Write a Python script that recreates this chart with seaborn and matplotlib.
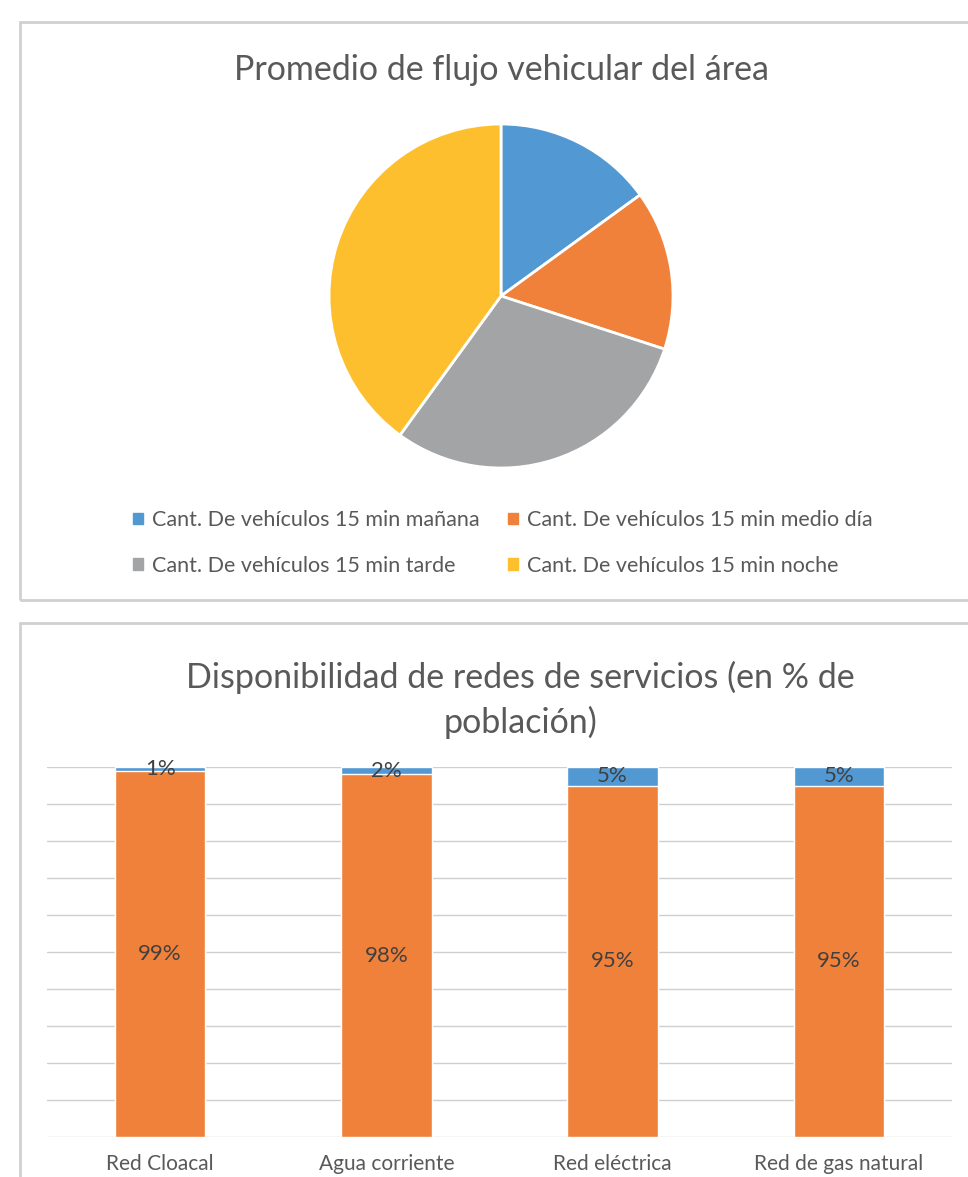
import matplotlib.pyplot as plt
import seaborn as sns
import pandas as pd
from matplotlib.patches import Rectangle, Patch

# pie data
flujo_labels = ["Cant. De vehículos 15 min mañana", "Cant. De vehículos 15 min medio día",
                "Cant. De vehículos 15 min tarde", "Cant. De vehículos 15 min noche"]
flujo_vals = [15, 15, 30, 40]
pie_colors = ["#5299D3", "#F0813A", "#A3A4A6", "#FDBF2D"]

# stacked bar data
redes = ["Red Cloacal", "Agua corriente", "Red eléctrica", "Red de gas natural"]
con_red = [99, 98, 95, 95]
sin_red = [1, 2, 5, 5]

sns.set_theme(style="white")
plt.rcParams['font.family'] = ['Lato', 'DejaVu Sans']
txt = "#595959"

W, H = 968, 1177
fig = plt.figure(figsize=(W / 100, H / 100), dpi=100)

def fx(px):
    return px / W

def fy(py):
    return 1 - py / H

# chart boxes
fig.patches.append(Rectangle((fx(20), fy(600)), fx(960), 578 / H, transform=fig.transFigure,
                             fill=False, edgecolor="#D0D0D0", linewidth=2))
fig.patches.append(Rectangle((fx(20), fy(1190)), fx(960), 567 / H, transform=fig.transFigure,
                             fill=False, edgecolor="#D0D0D0", linewidth=2))

# ---- pie ----
r = 172
ax1 = fig.add_axes([fx(501 - r), fy(296 + r), 2 * r / W, 2 * r / H])
ax1.pie(flujo_vals, colors=pie_colors, startangle=90, counterclock=False,
        wedgeprops=dict(edgecolor="white", linewidth=2))
ax1.set_xlim(-1, 1)
ax1.set_ylim(-1, 1)
fig.text(fx(501), fy(70), "Promedio de flujo vehicular del área", ha="center", va="center",
         fontsize=24.5, color=txt)
handles = [Patch(color=c, label=l) for c, l in zip(pie_colors, flujo_labels)]
# legend fills column-wise, reorder so rows read like the original
order = [0, 2, 1, 3]
fig.legend(handles=[handles[i] for i in order], ncol=2, loc="center",
           bbox_to_anchor=(fx(503), fy(543)),
           frameon=False, fontsize=15.5, labelcolor=txt, handlelength=0.45, handleheight=0.45,
           handletextpad=0.45, columnspacing=1.3, labelspacing=1.2)

# ---- stacked bars ----
df = pd.DataFrame({"Red": redes, "Con": con_red, "Sin": sin_red})
df["Total"] = df["Con"] + df["Sin"]
ax2 = fig.add_axes([fx(47), fy(1137), 905 / W, 370 / H])
sns.barplot(data=df, x="Red", y="Total", color=pie_colors[0], saturation=1, width=0.4, ax=ax2)
sns.barplot(data=df, x="Red", y="Con", color=pie_colors[1], saturation=1, width=0.4, ax=ax2)
ax2.set_ylim(0, 100)
ax2.set_xlim(-0.5, 3.5)
ax2.set_yticks(range(0, 101, 10))
ax2.set_yticklabels([])
ax2.yaxis.grid(True, color="#CFCFCF", linewidth=1)
ax2.set_axisbelow(True)
for s in ax2.spines.values():
    s.set_visible(False)
ax2.tick_params(axis="x", length=0, pad=12, labelsize=15, labelcolor=txt)
ax2.tick_params(axis="y", length=0)
ax2.set_xlabel("")
ax2.set_ylabel("")
for i, (c, s) in enumerate(zip(con_red, sin_red)):
    ax2.text(i, c / 2, f"{c}%", ha="center", va="center", fontsize=16, color="#404040")
    ax2.text(i, c + s / 2, f"{s}%", ha="center", va="center", fontsize=16, color="#404040")
fig.text(fx(520), fy(677), "Disponibilidad de redes de servicios (en % de", ha="center",
         va="center", fontsize=24.5, color=txt)
fig.text(fx(520), fy(722), "población)", ha="center", va="center", fontsize=24.5, color=txt)

plt.savefig("out.png", dpi=100)
